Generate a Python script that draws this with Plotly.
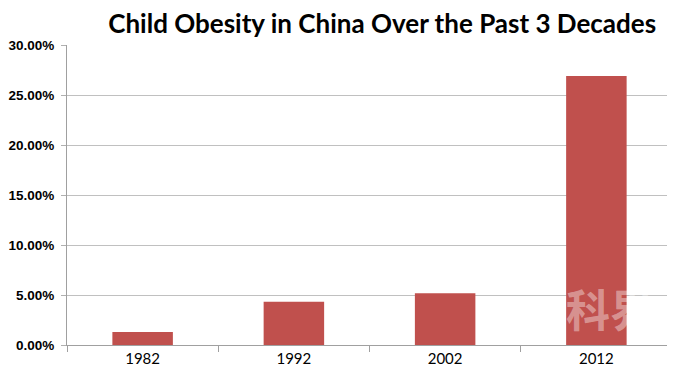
import plotly.graph_objects as go

years = ["1982", "1992", "2002", "2012"]
obesity = [0.013, 0.0433, 0.0517, 0.269]
y_ticks = [0, 0.05, 0.10, 0.15, 0.20, 0.25, 0.30]
y_labels = ["0.00%", "5.00%", "10.00%", "15.00%", "20.00%", "25.00%", "30.00%"]
title_text = "Child Obesity in China Over the Past 3 Decades"
watermark = "科界"

fig = go.Figure(go.Bar(x=years, y=obesity, marker=dict(color="#C0504D", line=dict(width=0)), width=0.4))

# page body has an 8px margin, so the figure is sized to fill the rest of the window
fig.update_layout(
    width=667, height=367,
    margin=dict(l=59, r=3, t=37, b=30),
    paper_bgcolor="white", plot_bgcolor="white",
    showlegend=False,
    title=dict(text="<b>" + title_text + "</b>", x=0.561, xanchor="center", y=0.958, yanchor="middle",
               font=dict(family="Lato, Open Sans, sans-serif", size=26, color="black")),
    xaxis=dict(type="category", tickson="boundaries", ticks="outside", ticklen=6, tickcolor="#a0a0a0",
               showline=True, linecolor="#a0a0a0", linewidth=1, showgrid=False,
               tickfont=dict(family="Lato, Open Sans, sans-serif", size=15, color="black")),
    yaxis=dict(range=[0, 0.30], tickvals=y_ticks, ticktext=y_labels, ticks="outside", ticklen=5,
               tickcolor="#b0b0b0", showline=True, linecolor="#a0a0a0", linewidth=1,
               showgrid=True, gridcolor="#c0c0c0", gridwidth=1, zeroline=False,
               ticklabelstandoff=4, automargin=False,
               tickfont=dict(family="Liberation Sans, Arial, sans-serif", size=13.5, color="black", weight="bold")),
    bargap=0.6,
)

fig.add_annotation(text="<b>" + watermark + "</b>", xref="paper", yref="paper", x=0.822, y=0.01,
                   xanchor="left", yanchor="bottom", showarrow=False,
                   font=dict(family="Noto Sans CJK SC", size=44, color="rgba(255,255,255,0.4)"))

fig.write_html("out.html")
